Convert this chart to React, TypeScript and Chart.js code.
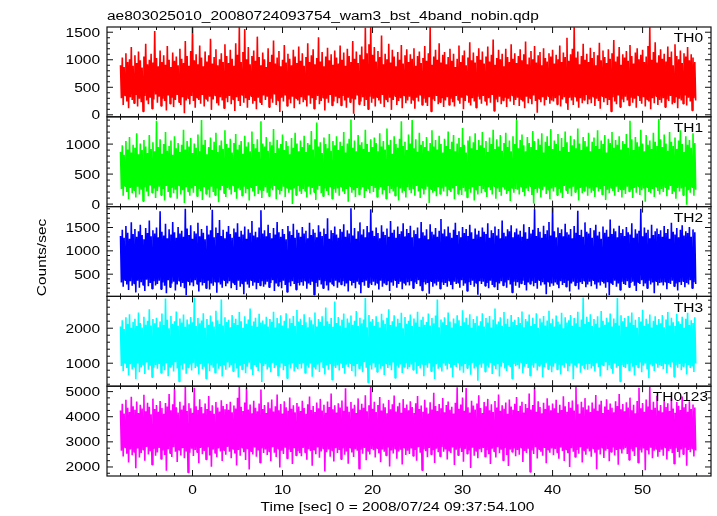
import React, { useEffect, useRef } from "react";
import { Chart, registerables } from "chart.js";

Chart.register(...registerables);

// ---------- text ----------
const TITLE = "ae803025010_20080724093754_wam3_bst_4band_nobin.qdp";
const X_LABEL = "Time [sec] 0 = 2008/07/24 09:37:54.100";
const Y_LABEL = "Counts/sec";

// ---------- time axis ----------
const T_START = -8.0; // first bin time (s)
const T_STEP = 0.1; // bin width (s)
const X_MIN = -9.5;
const X_MAX = 57.6;
const X_TICKS = [0, 10, 20, 30, 40, 50];
const X_MINOR = 2;
const X_MAJOR = 10;

// ---------- panels ----------
const PANEL_NAMES = ["TH0", "TH1", "TH2", "TH3", "TH0123"];
const PANEL_COLORS = ["#ff0000", "#00ff00", "#0000ff", "#00ffff", "#ff00ff"];
const Y_MIN = [-36, -42, 24, 343, 1641];
const Y_MAX = [1595, 1455, 1948, 2909, 5215];
const Y_MAJOR = [500, 500, 500, 1000, 1000];
const Y_MINOR = [100, 100, 100, 200, 250];

// ---------- light curves: alternating local maxima (HI) / minima (LO) of consecutive bins ----------
const TH0_HI = [
  900, 1040, 870, 1120, 960, 1010, 1230, 890, 1080, 940, 1150, 990, 860, 1060, 1290, 920, 1000, 1110, 950, 1520,
  1030, 880, 1170, 960, 1080, 910, 1250, 1000, 870, 1130, 980, 1060, 900, 1200, 1020, 940, 1340, 1070, 890, 1160,
  1590, 990, 1100, 920, 1260, 1040, 880, 1150, 970, 1080, 1380, 930, 1050, 1190, 900, 1010, 1120, 960, 1280, 1070,
  940, 1180, 1020, 890, 1300, 1090, 1590, 960, 1140, 1560, 1010, 1230, 920, 1070, 1170, 980, 1420, 1050, 900, 1130,
  1010, 870, 1210, 960, 1090, 1350, 930, 1040, 1160, 880, 1000, 1270, 950, 1110, 1020, 900, 1180, 1060, 940, 1240,
  980, 1120, 890, 1050, 1300, 960, 1080, 1190, 920, 1030, 1410, 970, 1140, 880, 1060, 1220, 990, 1100, 910, 1170,
  1040, 930, 1260, 1000, 1130, 890, 1200, 1070, 960, 1340, 1020, 1150, 940, 1090, 1240, 1010, 1580, 1120, 1280, 1590,
  1090, 1230, 970, 1160, 1050, 1440, 920, 1110, 1010, 1290, 950, 1180, 1060, 880, 1140, 1000, 1270, 930, 1080, 1190,
  960, 1100, 1020, 1210, 890, 1070, 1150, 940, 1030, 1250, 980, 1120, 1590, 910, 1060, 1180, 1000, 1300, 950, 1090,
  1140, 920, 1050, 1200, 980, 1110, 870, 1020, 1260, 960, 1080, 1170, 900, 1040, 1320, 990, 1130, 950, 1070, 1210,
  1000, 1150, 930, 1060, 1240, 970, 1090, 1370, 910, 1030, 1180, 1010, 1110, 880, 1200, 1050, 960, 1280, 1020, 1120,
  940, 1070, 1190, 990, 1100, 1330, 920, 1040, 1160, 1010, 1250, 950, 1080, 1140, 900, 1210, 1030, 970, 1120, 1060,
  1180, 930, 1090, 1010, 1260, 960, 1130, 1050, 1400, 980, 1100, 1200, 1590, 1040, 1150, 920, 1070, 1290, 1000, 1110,
  960, 1220, 1030, 1140, 900, 1080, 1310, 990, 1170, 1050, 940, 1190, 1020, 1120, 1360, 970, 1060, 1230, 910, 1100,
  1040, 1160, 980, 1270, 1070, 930, 1130, 1210, 1010, 1090, 1180, 960, 1060, 1250, 1590, 1000, 1140, 1320, 950, 1080,
  1190, 1020, 1110, 970, 1240, 1050, 1150, 900, 1280, 1070, 1010, 1170, 940, 1120, 1060, 1230, 990, 1100, 1040, 960,
];
const TH0_LO = [
  300, 180, 350, 240, 120, 320, 270, 210, 360, 150, 290, 230, 60, 340, 260, 190, 310, 110, 280, 370,
  220, 330, 160, 290, 250, 80, 350, 200, 310, 140, 270, 360, 230, 180, 320, 30, 260, 300, 190, 340,
  250, 130, 310, 270, 200, 360, 150, 290, 240, 330, 90, 280, 350, 210, 170, 320, 260, 120, 300, 230,
  340, 190, 280, 70, 320, 250, 160, 360, 220, 300, 130, 270, 340, 200, 250, 100, 310, 230, 180, 350,
  270, 330, 140, 290, 220, 370, 180, 260, 50, 310, 240, 350, 160, 280, 210, 330, 120, 300, 260, 190,
  320, 230, 280, 150, 350, 200, 300, 110, 270, 340, 190, 250, 310, 80, 290, 220, 360, 170, 240, 330,
  210, 300, 170, 340, 260, 130, 310, 230, 290, 20, 280, 350, 190, 240, 320, 160, 270, 100, 330, 220,
  290, 150, 320, 260, 200, 360, 140, 280, 230, 310, 90, 270, 340, 180, 250, 300, 120, 350, 210, 260,
  330, 200, 270, 110, 310, 240, 350, 180, 290, 220, 160, 320, 60, 280, 250, 340, 190, 230, 300, 140,
  260, 320, 180, 290, 230, 150, 340, 270, 200, 310, 100, 250, 360, 220, 170, 300, 240, 130, 330, 280,
  200, 340, 250, 170, 300, 220, 360, 70, 280, 230, 330, 190, 260, 310, 140, 290, 240, 350, 180, 270,
  310, 160, 280, 240, 120, 330, 210, 300, 190, 350, 250, 40, 290, 230, 320, 170, 270, 340, 200, 260,
  240, 300, 190, 350, 150, 280, 320, 220, 90, 310, 260, 180, 330, 240, 130, 300, 210, 270, 360, 190,
  280, 210, 330, 160, 290, 250, 110, 340, 230, 300, 180, 270, 60, 320, 240, 190, 350, 140, 280, 230,
  330, 260, 170, 310, 220, 290, 130, 350, 250, 200, 320, 150, 280, 240, 100, 300, 210, 340, 180, 270,
  220, 300, 140, 280, 250, 340, 190, 230, 320, 120, 290, 260, 200, 350, 170, 310, 240, 80, 300, 260,
];

const TH1_HI = [
  870, 980, 820, 1050, 910, 1120, 860, 990, 940, 1180, 830, 1010, 900, 1070, 960, 850, 1150, 920, 1030, 880,
  1390, 950, 1080, 840, 1000, 1200, 890, 970, 1060, 820, 1130, 930, 1020, 870, 990, 1240, 910, 1050, 960, 1100,
  850, 1010, 940, 1160, 880, 1400, 990, 1070, 830, 950, 1110, 900, 1040, 1190, 870, 980, 1060, 920, 1230, 1000,
  940, 1090, 860, 1020, 1170, 910, 990, 1050, 840, 1140, 960, 1030, 880, 1210, 1000, 930, 1080, 870, 1380, 1010,
  960, 1120, 890, 1040, 980, 1250, 850, 1070, 930, 1000, 1160, 900, 1050, 970, 830, 1100, 940, 1190, 1010, 880,
  1060, 950, 1140, 870, 1020, 990, 1220, 910, 1080, 1360, 960, 1030, 850, 1110, 1000, 930, 1170, 890, 1050, 980,
  1130, 900, 1040, 970, 1200, 860, 1010, 1090, 1410, 940, 1060, 880, 1150, 990, 1030, 920, 1240, 1000, 870, 1080,
  950, 1110, 1020, 880, 1180, 960, 1050, 910, 1260, 990, 1070, 840, 1130, 1000, 940, 1090, 1380, 970, 1040, 900,
  1160, 1010, 1400, 930, 1080, 870, 1190, 990, 1050, 950, 1120, 890, 1020, 1230, 960, 1070, 910, 1140, 1000, 860,
  1090, 970, 1210, 920, 1040, 1150, 880, 1010, 1100, 950, 1270, 990, 860, 1060, 1130, 930, 1030, 1180, 900, 1070,
  980, 1200, 940, 1050, 870, 1110, 1000, 1240, 920, 1080, 960, 1150, 890, 1020, 1190, 950, 1060, 880, 1130, 1000,
  1400, 930, 1070, 1160, 980, 880, 1120, 1020, 950, 1220, 1050, 900, 1090, 990, 1180, 860, 1040, 1130, 970, 1250,
  920, 1060, 1000, 1170, 890, 1100, 950, 1210, 1030, 870, 1140, 980, 1080, 930, 1260, 1010, 900, 1120, 1050, 960,
  1190, 880, 1040, 1110, 970, 1230, 920, 1060, 1000, 1150, 860, 1090, 1020, 1200, 940, 1070, 990, 1130, 910, 1050,
  1000, 1170, 940, 1390, 1080, 900, 1120, 1030, 960, 1240, 1010, 880, 1150, 990, 1060, 920, 1190, 1040, 970, 1420,
  1080, 950, 1160, 1010, 890, 1200, 1040, 970, 1110, 920, 1060, 1230, 1000, 870, 1130, 990, 1070, 940, 1180, 1020,
];
const TH1_LO = [
  250, 140, 300, 200, 80, 270, 180, 230, 110, 290, 160, 240, 50, 280, 210, 130, 310, 190, 260, 100,
  220, 290, 150, 250, 60, 300, 200, 120, 270, 180, 240, 90, 310, 160, 230, 20, 280, 210, 140, 260,
  190, 300, 130, 250, 220, 70, 280, 170, 240, 110, 290, 200, 150, 260, 30, 230, 300, 180, 120, 270,
  240, 160, 310, 200, 90, 260, 230, 140, 290, 180, 250, 60, 280, 210, 130, 300, 170, 240, 100, 220,
  280, 190, 130, 260, 230, 300, 80, 250, 160, 220, 290, 120, 270, 190, 240, 0, 260, 150, 300, 210,
  170, 250, 220, 110, 290, 160, 270, 200, 70, 240, 300, 180, 130, 260, 220, 150, 280, 90, 250, 190,
  260, 140, 290, 210, 170, 250, 40, 300, 190, 230, 120, 270, 160, 240, 280, 100, 220, 260, 180, 300,
  200, 270, 120, 240, 280, 160, 230, 90, 300, 180, 250, 210, 140, 290, 60, 260, 190, 230, 110, 280,
  230, 180, 260, 140, 300, 210, 100, 270, 160, 240, 290, 20, 250, 190, 220, 130, 280, 170, 260, 210,
  290, 130, 240, 200, 260, 80, 300, 170, 230, 150, 270, 210, 110, 250, 190, 280, 60, 240, 160, 300,
  180, 250, 210, 120, 280, 230, 160, 300, 90, 260, 200, 140, 290, 240, 170, 220, 50, 270, 190, 250,
  240, 160, 290, 200, 130, 260, 220, 300, 150, 10, 250, 190, 270, 110, 230, 290, 170, 240, 80, 260,
  210, 280, 150, 250, 190, 100, 300, 230, 170, 260, 130, 290, 200, 240, 60, 270, 180, 220, 290, 140,
  260, 190, 230, 120, 280, 210, 250, 160, 300, 70, 240, 180, 270, 220, 140, 290, 200, 250, 110, 230,
  170, 290, 210, 240, 100, 270, 190, 300, 150, 230, 260, 40, 280, 200, 180, 250, 120, 290, 220, 160,
  250, 200, 280, 130, 240, 300, 170, 220, 90, 270, 210, 260, 150, 290, -10, 230, 190, 280, 140, 240,
];

const TH2_HI = [
  1320, 1450, 1280, 1530, 1390, 1260, 1610, 1360, 1470, 1300, 1420, 1560, 1340, 1250, 1490, 1380, 1650, 1310, 1440, 1370,
  1500, 1290, 1850, 1410, 1330, 1580, 1270, 1460, 1350, 1620, 1400, 1280, 1510, 1370, 1430, 1300, 1900, 1480, 1340, 1550,
  1260, 1420, 1370, 1600, 1310, 1470, 1390, 1250, 1540, 1350, 1440, 1880, 1290, 1500, 1380, 1660, 1320, 1450, 1270, 1410,
  1530, 1360, 1280, 1480, 1400, 1590, 1300, 1430, 1350, 1520, 1260, 1460, 1390, 1640, 1330, 1410, 1290, 1500, 1870, 1370,
  1440, 1310, 1560, 1380, 1270, 1490, 1350, 1620, 1400, 1300, 1470, 1360, 1250, 1530, 1420, 1340, 1580, 1280, 1450, 1390,
  1300, 1510, 1370, 1430, 1270, 1600, 1340, 1460, 1390, 1290, 1550, 1410, 1320, 1480, 1360, 1700, 1260, 1440, 1380, 1520,
  1350, 1280, 1470, 1410, 1570, 1300, 1440, 1370, 1910, 1330, 1490, 1260, 1420, 1610, 1350, 1460, 1290, 1530, 1400, 1890,
  1430, 1320, 1500, 1380, 1270, 1550, 1410, 1340, 1480, 1300, 1640, 1390, 1450, 1280, 1520, 1360, 1420, 1590, 1310, 1470,
  1380, 1540, 1290, 1440, 1360, 1500, 1270, 1620, 1400, 1330, 1460, 1250, 1570, 1410, 1350, 1490, 1300, 1430, 1680, 1370,
  1460, 1310, 1520, 1390, 1280, 1450, 1600, 1340, 1420, 1290, 1510, 1380, 1470, 1320, 1560, 1400, 1260, 1480, 1350, 1430,
  1300, 1500, 1410, 1360, 1590, 1280, 1440, 1380, 1520, 1330, 1470, 1270, 1650, 1390, 1310, 1460, 1420, 1550, 1290, 1400,
  1480, 1350, 1430, 1300, 1570, 1400, 1260, 1510, 1370, 1450, 1890, 1320, 1490, 1410, 1280, 1540, 1360, 1440, 1620, 1330,
  1930, 1420, 1290, 1500, 1380, 1460, 1310, 1580, 1400, 1350, 1470, 1270, 1530, 1390, 1860, 1340, 1450, 1300, 1610, 1410,
  1370, 1490, 1280, 1440, 1560, 1330, 1410, 1260, 1520, 1390, 1450, 1300, 1670, 1360, 1480, 1420, 1290, 1540, 1380, 1460,
  1320, 1510, 1400, 1350, 1590, 1280, 1460, 1370, 1430, 1900, 1310, 1500, 1390, 1450, 1270, 1560, 1340, 1420, 1480, 1360,
  1440, 1300, 1530, 1380, 1470, 1260, 1600, 1410, 1350, 1490, 1290, 1450, 1550, 1330, 1420, 1380, 1510, 1300, 1460, 1400,
];
const TH2_LO = [
  320, 230, 370, 280, 160, 350, 250, 300, 110, 360, 210, 330, 270, 140, 380, 240, 310, 190, 350, 260,
  290, 360, 180, 320, 250, 90, 370, 220, 300, 340, 150, 280, 360, 230, 310, 200, 50, 350, 260, 320,
  240, 370, 290, 130, 330, 260, 310, 200, 360, 170, 300, 250, 340, 100, 320, 280, 210, 370, 240, 300,
  350, 200, 320, 270, 160, 360, 230, 300, 70, 340, 280, 210, 370, 250, 320, 180, 310, 260, 350, 230,
  280, 340, 220, 310, 370, 140, 300, 250, 330, 200, 360, 270, 120, 320, 240, 350, 290, 170, 310, 260,
  330, 250, 360, 190, 300, 270, 340, 60, 310, 230, 370, 280, 200, 350, 260, 150, 320, 290, 240, 360,
  210, 320, 280, 350, 240, 300, 130, 370, 260, 310, 200, 340, 290, 90, 330, 250, 360, 220, 300, 270,
  340, 260, 310, 170, 360, 230, 300, 280, 350, 140, 320, 250, 370, 210, 290, 340, 180, 310, 260, 330,
  260, 350, 200, 320, 290, 370, 240, 150, 330, 280, 310, 80, 350, 230, 300, 260, 340, 190, 320, 270,
  310, 230, 360, 270, 180, 340, 290, 320, 210, 370, 250, 300, 140, 330, 270, 360, 230, 310, 60, 350,
  290, 340, 250, 310, 200, 360, 270, 230, 330, 160, 300, 350, 260, 320, 210, 370, 280, 110, 340, 250,
  330, 210, 300, 360, 270, 150, 320, 290, 350, 240, 310, 190, 370, 260, 330, 280, 70, 340, 230, 300,
  250, 320, 290, 200, 350, 270, 310, 230, 360, 130, 300, 340, 260, 310, 170, 330, 290, 360, 220, 280,
  340, 240, 370, 280, 190, 320, 260, 350, 300, 210, 330, 50, 310, 270, 360, 230, 300, 160, 340, 290,
  270, 350, 220, 310, 340, 250, 140, 330, 290, 370, 240, 300, 200, 360, 280, 320, 90, 350, 260, 310,
  320, 260, 340, 180, 310, 290, 360, 240, 300, 150, 330, 270, 350, 220, 310, 280, 370, 200, 330, 290,
];

const TH3_HI = [
  2050, 2230, 1980, 2310, 2120, 2400, 2010, 2180, 2270, 2060, 2450, 2150, 2020, 2330, 2100, 2210, 2540, 2080, 2260, 2140,
  2300, 2030, 2190, 2420, 2090, 2850, 2240, 2000, 2350, 2130, 2200, 2480, 2070, 2280, 2160, 2390, 2040, 2250, 2110, 2320,
  2170, 2880, 2060, 2290, 2140, 2220, 2430, 2010, 2260, 2100, 2360, 2190, 2050, 2500, 2230, 2120, 2820, 2080, 2310, 2180,
  2240, 2030, 2380, 2150, 2270, 2090, 2460, 2200, 2010, 2340, 2130, 2250, 2560, 2070, 2190, 2300, 2040, 2410, 2160, 2220,
  2110, 2330, 2050, 2260, 2180, 2470, 2020, 2290, 2140, 2370, 2080, 2210, 2430, 2000, 2280, 2150, 2350, 2060, 2520, 2190,
  2270, 2090, 2400, 2170, 2030, 2310, 2230, 2110, 2450, 2050, 2260, 2180, 2340, 2070, 2590, 2200, 2120, 2290, 2040, 2760,
  2150, 2320, 2080, 2240, 2420, 2010, 2280, 2160, 2360, 2100, 2210, 2490, 2060, 2300, 2140, 2250, 2860, 2030, 2380, 2190,
  2260, 2070, 2340, 2180, 2020, 2410, 2230, 2120, 2300, 2540, 2090, 2200, 2370, 2050, 2270, 2150, 2440, 2000, 2320, 2130,
  2210, 2390, 2060, 2280, 2160, 2470, 2040, 2240, 2330, 2100, 2180, 2420, 2080, 2290, 2140, 2360, 2820, 2030, 2250, 2170,
  2310, 2090, 2450, 2190, 2020, 2280, 2140, 2370, 2230, 2060, 2510, 2170, 2300, 2100, 2400, 2010, 2260, 2150, 2340, 2080,
  2200, 2430, 2050, 2290, 2160, 2350, 2020, 2250, 2560, 2110, 2190, 2310, 2070, 2460, 2130, 2270, 2040, 2380, 2180, 2240,
  2090, 2320, 2150, 2480, 2030, 2260, 2200, 2390, 2060, 2300, 2120, 2430, 2010, 2280, 2170, 2350, 2080, 2220, 2500, 2140,
  2270, 2050, 2360, 2190, 2110, 2440, 2000, 2310, 2160, 2230, 2380, 2070, 2290, 2140, 2470, 2040, 2250, 2880, 2120, 2330,
  2180, 2400, 2060, 2260, 2130, 2340, 2020, 2490, 2210, 2100, 2300, 2170, 2420, 2050, 2280, 2150, 2860, 2080, 2370, 2200,
  2290, 2040, 2350, 2160, 2450, 2090, 2240, 2010, 2320, 2190, 2530, 2070, 2270, 2130, 2390, 2020, 2210, 2340, 2100, 2260,
  2140, 2380, 2030, 2250, 2460, 2080, 2300, 2170, 2060, 2410, 2200, 2120, 2330, 2010, 2270, 2440, 2090, 2230, 2150, 2310,
];
const TH3_LO = [
  920, 780, 1010, 860, 650, 970, 820, 900, 540, 990, 740, 880, 960, 690, 1020, 810, 930, 600, 870, 950,
  840, 980, 720, 910, 800, 1000, 630, 890, 950, 760, 1030, 850, 480, 940, 820, 990, 700, 880, 960, 790,
  1010, 860, 920, 680, 970, 830, 900, 560, 1000, 770, 940, 870, 730, 990, 840, 910, 620, 960, 810, 1020,
  880, 940, 770, 1000, 850, 590, 930, 820, 980, 710, 900, 1010, 840, 660, 950, 890, 780, 1030, 460, 920,
  970, 820, 900, 740, 1010, 860, 940, 640, 880, 990, 800, 920, 570, 960, 850, 1000, 760, 910, 830, 980,
  850, 1000, 720, 930, 870, 990, 610, 900, 820, 960, 750, 1020, 880, 680, 940, 810, 970, 530, 910, 860,
  940, 790, 1010, 860, 700, 960, 890, 1000, 780, 920, 620, 980, 850, 910, 740, 1030, 870, 450, 950, 820,
  1000, 880, 750, 970, 840, 910, 660, 990, 860, 940, 800, 1020, 580, 930, 870, 960, 720, 890, 1010, 830,
  890, 960, 810, 1030, 700, 920, 850, 980, 630, 940, 870, 1000, 770, 900, 550, 970, 840, 910, 760, 990,
  930, 820, 1000, 870, 600, 950, 890, 1020, 790, 910, 730, 980, 860, 940, 670, 1010, 850, 920, 500, 960,
  870, 990, 760, 930, 880, 1010, 690, 950, 830, 970, 620, 900, 1030, 850, 780, 940, 890, 560, 980, 910,
  950, 840, 1020, 710, 900, 980, 860, 640, 940, 870, 1000, 790, 920, 960, 600, 890, 1010, 830, 930, 740,
  900, 1000, 820, 960, 680, 940, 870, 1020, 770, 910, 990, 540, 950, 880, 1000, 730, 930, 860, 970, 810,
  980, 850, 930, 760, 1010, 890, 620, 960, 910, 1030, 800, 940, 860, 700, 990, 870, 920, 480, 950, 890,
  860, 970, 790, 1000, 900, 650, 950, 880, 1020, 740, 930, 990, 840, 570, 960, 910, 780, 1010, 870, 940,
  920, 830, 990, 720, 960, 890, 1020, 610, 940, 870, 980, 800, 910, 1000, 680, 950, 860, 930, 750, 990,
];

const TH0123_HI = [
  4250, 4520, 4130, 4680, 4360, 4190, 4790, 4420, 4280, 4610, 4150, 4480, 4330, 4870, 4220, 4560, 4400, 4100, 4720, 4310,
  4470, 4200, 4630, 4350, 4120, 4550, 4410, 4900, 4260, 4500, 5120, 4380, 4170, 4600, 4290, 4450, 5180, 4230, 4540, 4340,
  4160, 5150, 4420, 4270, 4700, 4390, 4140, 4530, 4310, 4820, 4240, 4460, 4120, 4590, 4370, 4210, 4660, 4430, 4300, 4510,
  4280, 4600, 4180, 4450, 4330, 4750, 5200, 4400, 4230, 4570, 5160, 4290, 4490, 4140, 4640, 4360, 4220, 4530, 5080, 4310,
  4470, 4150, 4580, 4340, 4690, 4210, 4420, 4880, 4260, 4510, 4130, 4620, 4380, 4240, 4760, 4320, 4460, 4180, 4550, 4410,
  4230, 4640, 4350, 4120, 4500, 4800, 4270, 4430, 4190, 4570, 4340, 4710, 4250, 4480, 4160, 4610, 4390, 4920, 4300, 4460,
  4170, 4540, 4370, 4650, 4240, 5130, 4410, 4200, 4590, 4330, 4480, 4150, 4730, 4280, 4520, 4360, 4850, 4220, 4460, 5190,
  4320, 4600, 4190, 4470, 4780, 4250, 4530, 4380, 4140, 4670, 4300, 4500, 4840, 4210, 4420, 4560, 4160, 4700, 4350, 4490,
  4260, 4620, 4390, 4150, 4540, 4820, 4310, 4450, 4200, 4680, 4370, 4130, 4580, 4290, 4950, 4430, 4230, 4510, 4340, 4740,
  4180, 4470, 4610, 4280, 4400, 4130, 4560, 5170, 4320, 4490, 4760, 4240, 5140, 4380, 4170, 4640, 4450, 4290, 4530, 4850,
  4350, 4150, 4590, 4420, 4710, 4260, 4500, 4190, 4630, 4370, 4880, 4240, 4460, 4320, 4570, 4120, 4690, 4410, 4280, 4520,
  4780, 4230, 4440, 4600, 4170, 4510, 4350, 4920, 4290, 4470, 5160, 4200, 4620, 4390, 4140, 4560, 4310, 4730, 4450, 4260,
  4530, 4340, 4680, 4160, 4480, 4270, 4810, 4420, 4200, 4590, 4360, 4650, 4250, 5180, 4500, 4130, 4600, 4380, 4740, 4290,
  4450, 4190, 4570, 4330, 4860, 4240, 4490, 4640, 4150, 4410, 4700, 4280, 4530, 4360, 4180, 4620, 4430, 4900, 4300, 4510,
  4220, 4580, 4370, 4760, 4260, 4480, 4140, 4630, 5150, 4340, 4550, 4200, 4690, 4410, 5200, 4280, 4600, 4360, 4830, 4250,
  4470, 4180, 4650, 4390, 4540, 4230, 4720, 4330, 4160, 4590, 4440, 4270, 4800, 4380, 4510, 4200, 4620, 4310, 4490, 4370,
];
const TH0123_LO = [
  2650, 2420, 2780, 2530, 2180, 2700, 2470, 2600, 1950, 2740, 2380, 2560, 2690, 2250, 2800, 2500, 2630, 2090, 2720, 2450,
  2580, 2760, 2320, 2660, 2480, 1850, 2710, 2550, 2400, 2790, 2610, 2200, 2680, 2460, 2750, 2350, 2620, 1780, 2570, 2730,
  2440, 2680, 2590, 2150, 2760, 2510, 2640, 2300, 2790, 2460, 2010, 2700, 2560, 2390, 2740, 2620, 2240, 2670, 2490, 2800,
  2610, 2350, 2720, 2540, 2060, 2680, 2450, 2770, 2590, 2280, 2710, 1900, 2630, 2500, 2780, 2410, 2660, 2170, 2740, 2560,
  2700, 2480, 2620, 2230, 2790, 2570, 2400, 2730, 1980, 2650, 2520, 2770, 2340, 2690, 2600, 2120, 2750, 2460, 2640, 2550,
  2430, 2760, 2580, 2290, 2710, 2640, 2050, 2690, 2510, 2780, 2370, 2620, 2740, 1820, 2590, 2700, 2410, 2660, 2220, 2750,
  2560, 2680, 2310, 2740, 2490, 2620, 2130, 2770, 2580, 2400, 2710, 2650, 1930, 2690, 2530, 2760, 2270, 2640, 2500, 2720,
  2670, 2380, 2750, 2550, 2190, 2700, 2610, 2460, 2780, 2020, 2660, 2540, 2730, 2330, 2620, 2690, 2100, 2770, 2480, 2650,
  2520, 2740, 2440, 2680, 2250, 2790, 2570, 1870, 2710, 2630, 2390, 2760, 2500, 2670, 2160, 2730, 2590, 2420, 2800, 2610,
  2700, 2300, 2650, 2560, 2780, 2080, 2690, 2470, 2740, 2600, 2210, 2720, 2530, 2660, 1960, 2770, 2450, 2640, 2350, 2710,
  2590, 2760, 2410, 2670, 2510, 2120, 2730, 2620, 2380, 2790, 2550, 2690, 2260, 2750, 2480, 2040, 2700, 2600, 2740, 2430,
  2680, 2490, 2770, 2200, 2640, 2560, 2730, 1800, 2660, 2520, 2790, 2340, 2710, 2610, 2450, 2760, 2150, 2690, 2570, 2740,
  2470, 2720, 2580, 2330, 2780, 2640, 2240, 2700, 2550, 2000, 2750, 2610, 2400, 2680, 2530, 2790, 2180, 2660, 2490, 2730,
  2620, 2410, 2740, 2570, 1910, 2690, 2500, 2770, 2360, 2650, 2720, 2230, 2600, 2780, 2460, 2680, 2090, 2740, 2540, 2700,
  2760, 2520, 2280, 2710, 2630, 2440, 2790, 2170, 2670, 2580, 2740, 1870, 2690, 2500, 2770, 2350, 2650, 2720, 2410, 2600,
  2690, 2450, 2780, 2300, 2640, 2720, 2560, 2130, 2750, 2600, 2380, 2700, 2510, 2770, 2050, 2680, 2590, 2740, 2420, 2660,
];

const SERIES_HI = [TH0_HI, TH1_HI, TH2_HI, TH3_HI, TH0123_HI];
const SERIES_LO = [TH0_LO, TH1_LO, TH2_LO, TH3_LO, TH0123_LO];

// ---------- styling ----------
const FONT_FAMILY = '"Liberation Sans", Arial, Helvetica, sans-serif';
const FONT_SIZE = 12.5;
const FONT_STRETCH = 1.24;
const FRAME_COLOR = "#111";

function buildPoints(hi: number[], lo: number[]) {
  const pts: { x: number; y: number }[] = [];
  for (let i = 0; i < hi.length; i++) {
    pts.push({ x: T_START + 2 * i * T_STEP, y: hi[i] });
    pts.push({ x: T_START + (2 * i + 1) * T_STEP, y: lo[i] });
  }
  return pts;
}

function drawText(
  ctx: CanvasRenderingContext2D,
  text: string,
  x: number,
  y: number,
  align: CanvasTextAlign,
  rotate = 0
) {
  ctx.save();
  ctx.translate(x, y);
  if (rotate) ctx.rotate(rotate);
  ctx.scale(FONT_STRETCH, 1);
  ctx.font = `${FONT_SIZE}px ${FONT_FAMILY}`;
  ctx.fillStyle = "#000";
  ctx.textAlign = align;
  ctx.textBaseline = "alphabetic";
  ctx.fillText(text, 0, 0);
  ctx.restore();
}

const qdpPlugin = {
  id: "qdpFrame",
  afterDatasetsDraw(chart: any) {
    const ctx: CanvasRenderingContext2D = chart.ctx;
    const area = chart.chartArea;
    const xs = chart.scales.x;
    ctx.save();
    ctx.strokeStyle = FRAME_COLOR;
    const seg = (x1: number, y1: number, x2: number, y2: number) => {
      ctx.beginPath();
      ctx.moveTo(x1, y1);
      ctx.lineTo(x2, y2);
      ctx.stroke();
    };
    PANEL_NAMES.forEach((name, k) => {
      const ys = chart.scales["y" + k];
      const top = ys.top;
      const bottom = ys.bottom;
      ctx.lineWidth = 1.2;
      ctx.strokeRect(area.left, top, area.right - area.left, bottom - top);
      ctx.lineWidth = 1;
      for (let v = Math.ceil(X_MIN / X_MINOR) * X_MINOR; v <= X_MAX; v += X_MINOR) {
        const px = xs.getPixelForValue(v);
        const len = v % X_MAJOR === 0 ? 6 : 3;
        seg(px, bottom, px, bottom - len);
        seg(px, top, px, top + len);
      }
      for (let v = Math.ceil(Y_MIN[k] / Y_MINOR[k]) * Y_MINOR[k]; v <= Y_MAX[k]; v += Y_MINOR[k]) {
        const py = ys.getPixelForValue(v);
        const len = v % Y_MAJOR[k] === 0 ? 6 : 3;
        seg(area.left, py, area.left + len, py);
        seg(area.right, py, area.right - len, py);
      }
      for (const t of ys.ticks) {
        const py = ys.getPixelForValue(t.value);
        drawText(ctx, String(t.value), area.left - 7, py + 4.5, "right");
      }
      const right = name.length > 4 ? area.right - 3 : area.right - 8;
      drawText(ctx, name, right, top + 15.2, "right");
    });
    for (const t of xs.ticks) {
      drawText(ctx, String(t.value), xs.getPixelForValue(t.value), 493.5, "center");
    }
    drawText(ctx, TITLE, area.left, 19.5, "left");
    drawText(ctx, X_LABEL, 397.5, 510.5, "center");
    drawText(ctx, Y_LABEL, 46, (area.top + area.bottom) / 2 + 6, "center", -Math.PI / 2);
    ctx.restore();
  },
};

export default function App() {
  const ref = useRef<HTMLCanvasElement>(null);
  useEffect(() => {
    if (!ref.current) return;
    const scales: any = {
      x: {
        type: "linear",
        position: "bottom",
        min: X_MIN,
        max: X_MAX,
        grid: { display: false, drawTicks: false },
        border: { display: false },
        ticks: { display: false },
        afterBuildTicks: (s: any) => {
          s.ticks = X_TICKS.map((v) => ({ value: v }));
        },
        afterFit: (s: any) => {
          s.height = 40;
        },
      },
    };
    PANEL_NAMES.forEach((_, k) => {
      scales["y" + k] = {
        type: "linear",
        position: "left",
        stack: "panels",
        stackWeight: 1,
        weight: PANEL_NAMES.length - k,
        min: Y_MIN[k],
        max: Y_MAX[k],
        grid: { display: false, drawTicks: false },
        border: { display: false },
        ticks: { display: false },
        afterBuildTicks: (s: any) => {
          const out: { value: number }[] = [];
          for (let v = Math.ceil(Y_MIN[k] / Y_MAJOR[k]) * Y_MAJOR[k]; v <= Y_MAX[k]; v += Y_MAJOR[k]) {
            out.push({ value: v });
          }
          s.ticks = out;
        },
        afterFit: (s: any) => {
          s.width = 107;
        },
      };
    });
    const chart = new Chart(ref.current, {
      type: "line",
      data: {
        datasets: PANEL_NAMES.map((name, k) => ({
          label: name,
          data: buildPoints(SERIES_HI[k], SERIES_LO[k]),
          xAxisID: "x",
          yAxisID: "y" + k,
          borderColor: PANEL_COLORS[k],
          borderWidth: 1.6,
          borderJoinStyle: "bevel" as const,
          pointRadius: 0,
          fill: false,
          tension: 0,
        })),
      },
      options: {
        responsive: false,
        devicePixelRatio: 1,
        animation: false,
        events: [],
        layout: { padding: { top: 27, right: 6, bottom: 0, left: 0 } },
        plugins: {
          legend: { display: false },
          tooltip: { enabled: false },
          title: { display: false },
        },
        scales,
      },
      plugins: [qdpPlugin],
    });
    return () => chart.destroy();
  }, []);
  return (
    <div style={{ position: "absolute", left: 0, top: 0, width: 717, height: 516, background: "#fff" }}>
      <canvas ref={ref} width={717} height={516} style={{ display: "block", width: 717, height: 516 }} />
    </div>
  );
}
